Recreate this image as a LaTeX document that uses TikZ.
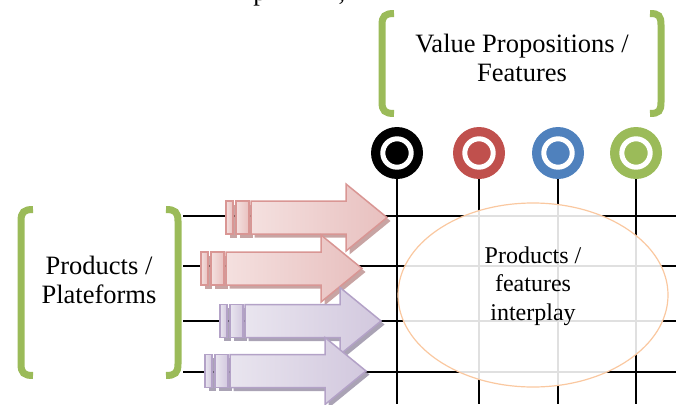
\documentclass[tikz,border=0pt]{standalone}
\usepackage{fontspec}
\setmainfont{Liberation Serif}
\usetikzlibrary{shapes.geometric}
\definecolor{vgreen}{HTML}{9BBB59}
\definecolor{vred}{HTML}{C0504D}
\definecolor{vblue}{HTML}{4F81BD}
\definecolor{peach}{HTML}{FAC8A0}
\definecolor{pinkL}{HTML}{F4E0DF}
\definecolor{pinkD}{HTML}{E8C0BF}
\definecolor{pinkB}{HTML}{D99694}
\definecolor{pinkS}{HTML}{B58584}
\definecolor{purL}{HTML}{E9E5EF}
\definecolor{purD}{HTML}{D2C8DE}
\definecolor{purB}{HTML}{B3A2C7}
\definecolor{purS}{HTML}{8E849C}
\tikzset{
  gridline/.style={black, line width=1.6pt},
  bracket/.style={vgreen, line width=7pt},
  bigtext/.style={font=\fontsize{26.5}{29}\selectfont, align=center, inner sep=0pt},
  midtext/.style={font=\fontsize{24}{28.5}\selectfont, align=center, inner sep=0pt},
  vpdot/.style={circle, fill=#1, minimum size=52pt, inner sep=0pt},
}
\newcommand\blockarr[6]{%
  \begin{scope}[shift={(#1,#2)}]
    \begin{scope}[shift={(3.5,3.5)}, fill=#6, fill opacity=0.75]
      \fill (0,-16.5) rectangle (7,16.5);
      \fill (10,-16.5) rectangle (23,16.5);
      \fill (25,-16.5) -- (120,-16.5) -- (120,-33.5) -- (161,0) -- (120,33.5) -- (120,16.5) -- (25,16.5) -- cycle;
    \end{scope}
    \begin{scope}[draw=#5, line width=1.5pt]
      \draw[left color=#3, right color=#4] (0,-16.5) rectangle (7,16.5);
      \draw[left color=#3, right color=#4] (10,-16.5) rectangle (23,16.5);
      \draw[left color=#3, right color=#4] (25,-16.5) -- (120,-16.5) -- (120,-33.5) -- (161,0) -- (120,33.5) -- (120,16.5) -- (25,16.5) -- cycle;
    \end{scope}
  \end{scope}}
\begin{document}
\begin{tikzpicture}[x=1pt, y=-1pt]
\useasboundingbox (0,0) rectangle (676,404);
\coordinate (bot) at (0,404);
\coordinate (rend) at (676,0);
% clipped fragments of text above
\node[bigtext, anchor=base] (fragA) at (260,1) {p};
\node[bigtext, anchor=base] (fragB) at (342,1) {,};
% value proposition dots
\node[vpdot=black] (v1) at (397,153) {};
\node[vpdot=vred] (v2) at (479,153) {};
\node[vpdot=vblue] (v3) at (558,153) {};
\node[vpdot=vgreen] (v4) at (636,153) {};
\foreach \v in {v1,v2,v3,v4}{
  \draw[white, line width=5pt] (\v.center) circle (14.2pt);
  \draw[gridline] (\v.south) -- (\v.south |- bot);
}
% horizontal lines
\foreach \i/\y in {1/216,2/266,3/321,4/372}{
  \coordinate (hs\i) at (183,\y);
  \draw[gridline] (hs\i) -- (hs\i -| rend);
}
% interplay ellipse
\node[ellipse, draw=peach, line width=1.2pt, fill=white, fill opacity=0.88,
      minimum width=270pt, minimum height=184pt] (inter) at (533,295) {};
\node[midtext] (intertext) at (533,285.8) {Products /\\features\\interplay};
% brackets
\draw[bracket] (394,13.5) .. controls (385,13.5) and (382,16) .. (382,25) -- (382,102) .. controls (382,111) and (385,113.5) .. (394,113.5);
\draw[bracket] (650,13.5) .. controls (659,13.5) and (661,16) .. (661,25) -- (661,102) .. controls (661,111) and (659,113.5) .. (650,113.5);
\draw[bracket] (33,209.5) .. controls (24,209.5) and (21,212) .. (21,221) -- (21,364) .. controls (21,373) and (24,375.5) .. (33,375.5);
\draw[bracket] (166,209.5) .. controls (175,209.5) and (178,212) .. (178,221) -- (178,364) .. controls (178,373) and (175,375.5) .. (166,375.5);
\node[bigtext] (vp) at (522,58.3) {Value Propositions /\\Features};
\node[bigtext] (pp) at (99,279.8) {Products /\\Plateforms};
% block arrows
\blockarr{226}{217.5}{pinkL}{pinkD}{pinkB}{pinkS}
\blockarr{201}{268.5}{pinkL}{pinkD}{pinkB}{pinkS}
\blockarr{220}{321}{purL}{purD}{purB}{purS}
\blockarr{205}{371}{purL}{purD}{purB}{purS}
\end{tikzpicture}
\end{document}
